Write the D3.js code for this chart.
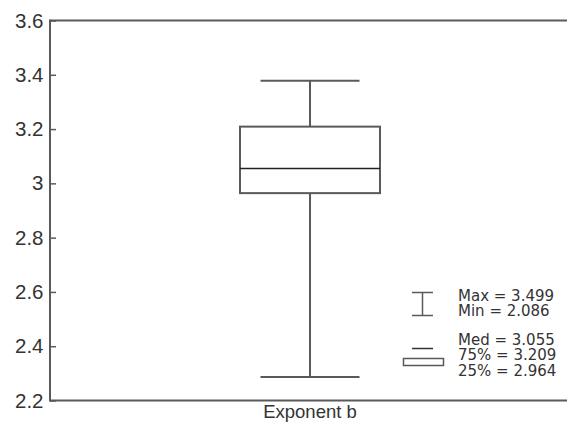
<!DOCTYPE html>
<html><head><meta charset="utf-8">
<script src="https://cdn.jsdelivr.net/npm/d3@7"></script>
<style>body{margin:0;background:#fff}svg{display:block}</style>
</head><body><svg id="c" width="567" height="426"></svg>
<script>
const categories = ["Exponent b"];
const whiskerLow = [2.287];
const q1 = [2.964];
const median = [3.055];
const q3 = [3.209];
const whiskerHigh = [3.378];
const yTicks = [2.2, 2.4, 2.6, 2.8, 3, 3.2, 3.4, 3.6];
const legendLines1 = ["Max = 3.499", "Min = 2.086"];
const legendLines2 = ["Med = 3.055", "75% = 3.209", "25% = 2.964"];

const svg = d3.select("#c");
const L = 50, T = 20.5, B = 400.5, R = 570;
const y = d3.scaleLinear().domain([2.2, 3.6]).range([B, T]);
const x = d3.scaleBand().domain(categories).range([L, R]);
const col = "#5a5a5a";
const af = "'Liberation Sans', Arial, sans-serif";

// axes
const ya = svg.append("g").attr("transform", `translate(${L},0)`)
  .call(d3.axisLeft(y).tickValues(yTicks).tickFormat(d3.format("")).tickSize(-6).tickPadding(6.5));
ya.select(".domain").remove();
ya.selectAll("line").attr("stroke", col).attr("stroke-width", 1.5);
ya.selectAll("text").style("font-size", "20.5px").style("font-family", af).style("fill", "#333");

const xa = svg.append("g").attr("transform", `translate(0,${B})`)
  .call(d3.axisBottom(x).tickSize(0).tickPadding(4));
xa.select(".domain").remove();
xa.selectAll("text").style("font-size", "18.5px").style("font-family", af).style("fill", "#333");

svg.append("line").attr("x1", L).attr("x2", R).attr("y1", T).attr("y2", T).attr("stroke", col).attr("stroke-width", 2);
svg.append("line").attr("x1", L).attr("x2", R).attr("y1", B).attr("y2", B).attr("stroke", col).attr("stroke-width", 2);
svg.append("line").attr("x1", L).attr("x2", L).attr("y1", T - 1).attr("y2", B + 1).attr("stroke", col).attr("stroke-width", 2);

// box
const boxW = 140, capW = 99;
categories.forEach((c, i) => {
  const cx = x(c) + x.bandwidth() / 2;
  const g = svg.append("g");
  g.append("line").attr("x1", cx).attr("x2", cx).attr("y1", y(whiskerHigh[i])).attr("y2", y(q3[i])).attr("stroke", col).attr("stroke-width", 2);
  g.append("line").attr("x1", cx).attr("x2", cx).attr("y1", y(q1[i])).attr("y2", y(whiskerLow[i])).attr("stroke", col).attr("stroke-width", 2);
  g.append("line").attr("x1", cx - capW / 2).attr("x2", cx + capW / 2).attr("y1", y(whiskerHigh[i])).attr("y2", y(whiskerHigh[i])).attr("stroke", col).attr("stroke-width", 2);
  g.append("line").attr("x1", cx - capW / 2).attr("x2", cx + capW / 2).attr("y1", y(whiskerLow[i])).attr("y2", y(whiskerLow[i])).attr("stroke", col).attr("stroke-width", 2);
  g.append("rect").attr("x", cx - boxW / 2).attr("y", y(q3[i])).attr("width", boxW).attr("height", y(q1[i]) - y(q3[i]))
    .attr("fill", "none").attr("stroke", col).attr("stroke-width", 2);
  g.append("line").attr("x1", cx - boxW / 2).attr("x2", cx + boxW / 2).attr("y1", y(median[i])).attr("y2", y(median[i])).attr("stroke", "#222").attr("stroke-width", 1.5);
});

// legend
const lg = svg.append("g");
lg.append("line").attr("x1", 412).attr("x2", 433).attr("y1", 292.5).attr("y2", 292.5).attr("stroke", col).attr("stroke-width", 1.5);
lg.append("line").attr("x1", 412).attr("x2", 433).attr("y1", 315.5).attr("y2", 315.5).attr("stroke", col).attr("stroke-width", 1.5);
lg.append("line").attr("x1", 422.5).attr("x2", 422.5).attr("y1", 292.5).attr("y2", 315.5).attr("stroke", col).attr("stroke-width", 1.5);
lg.append("line").attr("x1", 412).attr("x2", 433).attr("y1", 348.5).attr("y2", 348.5).attr("stroke", "#333").attr("stroke-width", 1.5);
lg.append("rect").attr("x", 403.5).attr("y", 358.5).attr("width", 40).attr("height", 7).attr("fill", "none").attr("stroke", col).attr("stroke-width", 1.5);
const lf = "'DejaVu Sans', sans-serif";
const addT = (t, yy) => lg.append("text").attr("x", 458).attr("y", yy).style("font-size", "15px").style("font-family", lf).style("fill", "#333").text(t);
legendLines1.forEach((t, i) => addT(t, 300.5 + i * 15.5));
legendLines2.forEach((t, i) => addT(t, 344.5 + i * 15.8));
</script></body></html>
